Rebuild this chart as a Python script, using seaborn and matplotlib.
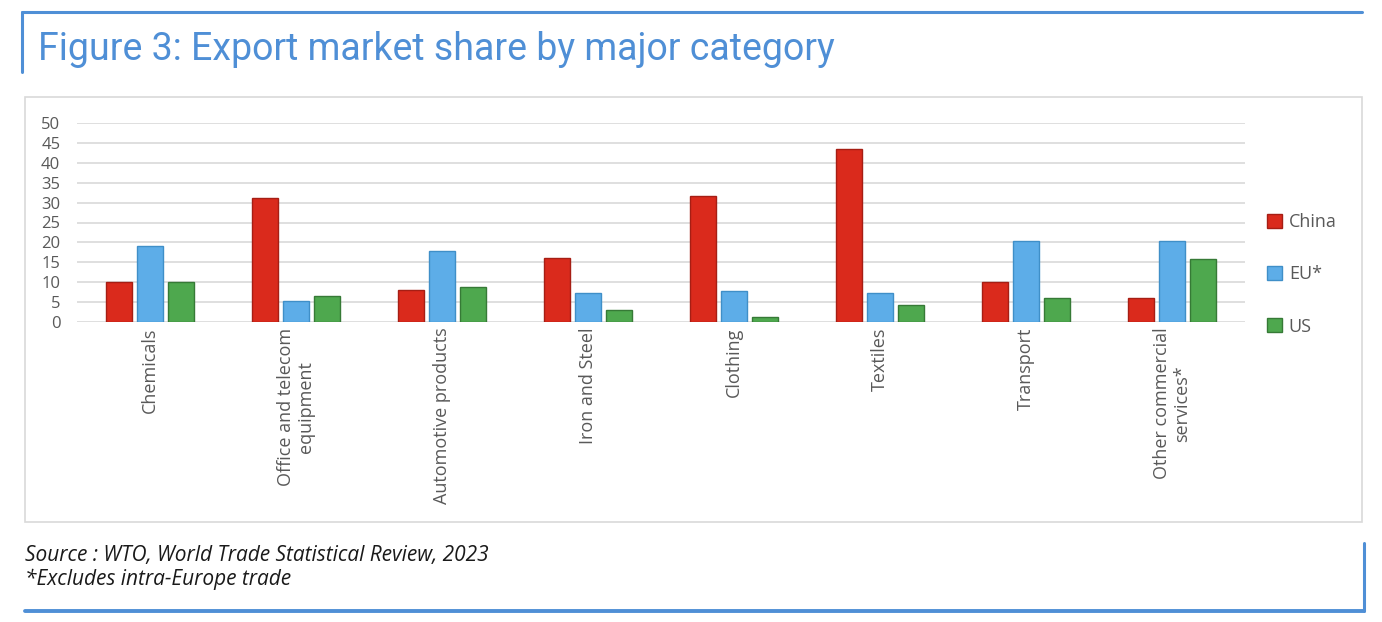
import pandas as pd
import numpy as np
import matplotlib
matplotlib.use('Agg')
import matplotlib.pyplot as plt
import seaborn as sns
from matplotlib.patches import Rectangle
from matplotlib.lines import Line2D

# data
categories = ['Chemicals', 'Office and telecom\nequipment', 'Automotive products',
              'Iron and Steel', 'Clothing', 'Textiles', 'Transport',
              'Other commercial\nservices*']
china = [10.0, 31.2, 8.0, 16.0, 31.6, 43.4, 10.0, 6.0]
eu = [19.0, 5.2, 17.8, 7.3, 7.8, 7.3, 20.3, 20.3]
us = [10.0, 6.5, 8.8, 3.0, 1.3, 4.3, 6.0, 15.8]
series = ['China', 'EU*', 'US']
y_ticks = [0, 5, 10, 15, 20, 25, 30, 35, 40, 45, 50]

colors = ['#DA2A1C', '#5DADE8', '#4EA84E']
edges = ['#A61E14', '#3F8FC8', '#367A36']

df = pd.DataFrame({
    'category': categories * 3,
    'series': sum([[s] * len(categories) for s in series], []),
    'value': china + eu + us,
})

sns.set_style('white')
plt.rcParams['font.family'] = ['Open Sans', 'DejaVu Sans']

fig = plt.figure(figsize=(13.82, 6.22), dpi=100)

# outer decorations (blue frame lines, grey chart box)
blue = '#4F8FD6'
fig.add_artist(Line2D([22 / 1382, 22 / 1382], [1 - 72 / 622, 1 - 12 / 622], color=blue, lw=2.2))
fig.add_artist(Line2D([22 / 1382, 1362 / 1382], [1 - 12 / 622, 1 - 12 / 622], color=blue, lw=2.2))
fig.add_artist(Line2D([1364 / 1382, 1364 / 1382], [1 - 611 / 622, 1 - 543 / 622], color=blue, lw=2.2))
fig.add_artist(Line2D([25 / 1382, 1364 / 1382], [1 - 611 / 622, 1 - 611 / 622], color=blue, lw=2.8))
fig.add_artist(Rectangle((25 / 1382, 1 - 522 / 622), 1337 / 1382, 425 / 622,
                         fill=False, edgecolor='#D9D9D9', lw=1.2))

fig.text(38 / 1382, 1 - 50 / 622, 'Figure 3: Export market share by major category',
         color=blue, fontsize=27, family='Roboto', va='center', ha='left')
fig.text(25 / 1382, 1 - 555 / 622, 'Source : WTO, World Trade Statistical Review, 2023',
         fontsize=15, style='italic', color='#1A1A1A', va='center')
fig.text(25 / 1382, 1 - 579 / 622, '*Excludes intra-Europe trade',
         fontsize=15, style='italic', color='#1A1A1A', va='center')

ax = fig.add_axes([77 / 1382, 1 - 322 / 622, 1168 / 1382, 199 / 622])
sns.barplot(data=df, x='category', y='value', hue='series', palette=colors,
            saturation=1, width=0.64, gap=0.15, ax=ax, legend=False)

for i, cont in enumerate(ax.containers):
    for bar in cont:
        bar.set_edgecolor(edges[i])
        bar.set_linewidth(1.0)

ax.set_ylim(0, 50)
ax.set_yticks(y_ticks)
ax.set_xlim(-0.5, len(categories) - 0.5)
ax.yaxis.grid(True, color='#D9D9D9', lw=1.2)
ax.set_axisbelow(True)
for s in ax.spines.values():
    s.set_visible(False)
ax.tick_params(axis='both', length=0, labelsize=12, colors='#595959', pad=4)
ax.tick_params(axis='x', labelsize=13)
ax.tick_params(axis='y', pad=12)
ax.set_xticks(range(len(categories)))
ax.set_xticklabels(categories, rotation=90, va='top', ha='center', multialignment='center')
ax.set_xlabel('')
ax.set_ylabel('')

handles = [Rectangle((0, 0), 1, 1, facecolor=c, edgecolor=e) for c, e in zip(colors, edges)]
ax.legend(handles, series, loc='center left', bbox_to_anchor=(1.005, 0.24), frameon=False,
          handlelength=0.8, handleheight=0.8, handletextpad=0.4, labelspacing=1.9,
          fontsize=13, labelcolor='#595959')

fig.savefig('out.png', dpi=100)
